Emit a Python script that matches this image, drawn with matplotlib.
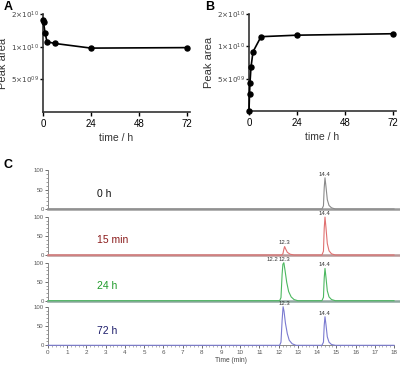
import matplotlib
matplotlib.use('Agg')
import matplotlib.pyplot as plt
from matplotlib.ticker import FixedLocator, MultipleLocator

plt.rcParams['font.family'] = ['Liberation Sans', 'DejaVu Sans']

# panel A / B: peak area vs time
time_a = [0, 0.25, 1, 2, 6, 24, 72]
area_a = [1.75e10, 1.68e10, 1.35e10, 1.11e10, 1.07e10, 0.97e10, 0.98e10]
time_b = [0, 0.25, 0.5, 1, 2, 6, 24, 72]
area_b = [2.5e9, 3.6e9, 4.6e9, 6.4e9, 8.9e9, 1.23e10, 1.27e10, 1.31e10]
y_ticks = [5e9, 1e10, 2e10]
y_tick_labels = [r'$5{\times}10^{09}$', r'$1{\times}10^{10}$', r'$2{\times}10^{10}$']
x_ticks = [0, 24, 48, 72]

# panel C: chromatogram traces (time in min, relative intensity)
labels_c = ['0 h', '15 min', '24 h', '72 h']
t_0h = [0, 14.25, 14.33, 14.37, 14.41, 14.46, 14.53, 14.62, 14.75, 14.95, 18]
y_0h = [0, 0, 8, 55, 80, 58, 24, 9, 3, 0, 0]
t_15m = [0, 12.15, 12.22, 12.27, 12.31, 12.36, 12.45, 12.6, 12.8, 14.25, 14.33, 14.37,
         14.41, 14.46, 14.53, 14.62, 14.75, 14.95, 18]
y_15m = [0, 0, 3, 15, 22, 16, 7, 2, 0, 0, 10, 70, 99, 72, 30, 11, 3, 0, 0]
t_24h = [0, 12.05, 12.12, 12.18, 12.22, 12.27, 12.33, 12.42, 12.52, 12.65, 12.8, 13.0,
         14.25, 14.33, 14.37, 14.41, 14.46, 14.53, 14.62, 14.75, 14.95, 18]
y_24h = [0, 0, 8, 70, 96, 100, 80, 48, 24, 10, 3, 0, 0, 9, 60, 85, 62, 26, 10, 3, 0, 0]
t_72h = [0, 12.05, 12.12, 12.18, 12.23, 12.28, 12.35, 12.45, 12.55, 12.7, 12.9,
         14.25, 14.33, 14.37, 14.41, 14.46, 14.53, 14.62, 14.75, 14.95, 18]
y_72h = [0, 0, 8, 65, 100, 88, 58, 30, 13, 4, 0, 0, 8, 52, 74, 54, 22, 8, 2, 0, 0]
peak_labels = [[(14.4, 83, '14.4')],
               [(12.3, 25, '12.3'), (14.4, 103, '14.4')],
               [(11.7, 103, '12.2'), (12.3, 103, '12.3'), (14.4, 88, '14.4')],
               [(12.3, 103, '12.3'), (14.4, 77, '14.4')]]

W, H = 400, 365
fig = plt.figure(figsize=(W / 100, H / 100), dpi=100)


def rect(x0, y0, x1, y1):
    return [x0 / W, 1 - y1 / H, (x1 - x0) / W, (y1 - y0) / H]


def peak_panel(ax, t, a, label_x):
    ax.plot(t, a, color='black', lw=1.2, marker='o', ms=3.6, clip_on=False, zorder=3)
    ax.set_yscale('log')
    ax.set_ylim(2.5e9, 2e10)
    ax.set_xlim(0, 73.5)
    ax.yaxis.set_major_locator(FixedLocator(y_ticks))
    ax.yaxis.set_minor_locator(FixedLocator([]))
    ax.set_yticklabels(y_tick_labels, fontsize=5.2, color='#444444')
    ax.set_xticks(x_ticks)
    ax.tick_params(axis='x', labelsize=7, length=3, width=1, pad=2)
    ax.tick_params(axis='y', length=2, width=1, pad=1)
    for s in ['top', 'right']:
        ax.spines[s].set_visible(False)
    for s in ['left', 'bottom']:
        ax.spines[s].set_linewidth(1.2)
        ax.spines[s].set_color('#333333')
    ax.set_xlabel('time / h', fontsize=7.5, color='#333333', labelpad=3)
    ax.set_ylabel('Peak area', fontsize=8, color='#333333')
    ax.yaxis.set_label_coords(label_x, 0.5)


ax_a = fig.add_axes(rect(43, 14, 190, 112))
peak_panel(ax_a, time_a, area_a, -0.235)
ax_b = fig.add_axes(rect(249, 14, 396, 111))
peak_panel(ax_b, time_b, area_b, -0.235)

fig.text(4 / W, 1 - 10 / H, 'A', fontsize=9, fontweight='bold')
fig.text(205 / W, 1 - 10 / H, 'B', fontsize=9, fontweight='bold')
fig.text(4 / W, 1 - 168 / H, 'C', fontsize=9, fontweight='bold')

# panel C
traces = [(t_0h, y_0h), (t_15m, y_15m), (t_24h, y_24h), (t_72h, y_72h)]
line_cols = ['#8a8a8a', '#e07070', '#4cb860', '#7a7ad0']
base_cols = ['#9a9a9a', '#b89898', '#8fa8a0', '#aaaaaa']
text_cols = ['#111111', '#8b1c1c', '#1f9a2a', '#1c1c6a']
rows = [(170, 209), (216.7, 255), (262.7, 300.7), (306.7, 345.3)]

for i, (t, y) in enumerate(traces):
    top, bot = rows[i]
    ax = fig.add_axes(rect(48, top, 394, bot))
    ax.plot(t, y, color=line_cols[i], lw=0.8, clip_on=False, zorder=3)
    ax.set_xlim(0, 18)
    ax.set_ylim(0, 100)
    ax.set_yticks([0, 50, 100])
    ax.yaxis.set_minor_locator(MultipleLocator(10))
    ax.tick_params(axis='y', labelsize=4.3, length=2, width=0.6, pad=1, colors='#555555')
    ax.tick_params(axis='y', which='minor', length=1.2, width=0.5, colors='#777777')
    for s in ['top', 'right']:
        ax.spines[s].set_visible(False)
    ax.spines['left'].set_color('#888888')
    ax.spines['left'].set_linewidth(0.7)
    if i < 3:
        ax.spines['bottom'].set_color(base_cols[i])
        ax.spines['bottom'].set_linewidth(1.8)
        ax.set_xticks([])
        ax.spines['bottom'].set_bounds(0, 18.3)
    else:
        ax.spines['bottom'].set_color('#888888')
        ax.spines['bottom'].set_linewidth(0.7)
        ax.set_xticks(range(0, 19))
        ax.xaxis.set_minor_locator(MultipleLocator(0.2))
        ax.tick_params(axis='x', labelsize=4.5, length=2.5, width=0.6, pad=1, colors='#555555')
        ax.tick_params(axis='x', which='minor', length=1.3, width=0.4, colors='#777777')
        ax.set_xlabel('Time (min)', fontsize=4.8, color='#444444')
        ax.xaxis.set_label_coords(0.53, -0.3)
    ax.text(2.55, 38, labels_c[i], fontsize=7.5, color=text_cols[i], ha='left', va='center')
    for px, py, lab in peak_labels[i]:
        ax.text(px, py, lab, fontsize=4.3, color='#333333', ha='center', va='bottom', clip_on=False)

fig.savefig('out.png', dpi=100)
